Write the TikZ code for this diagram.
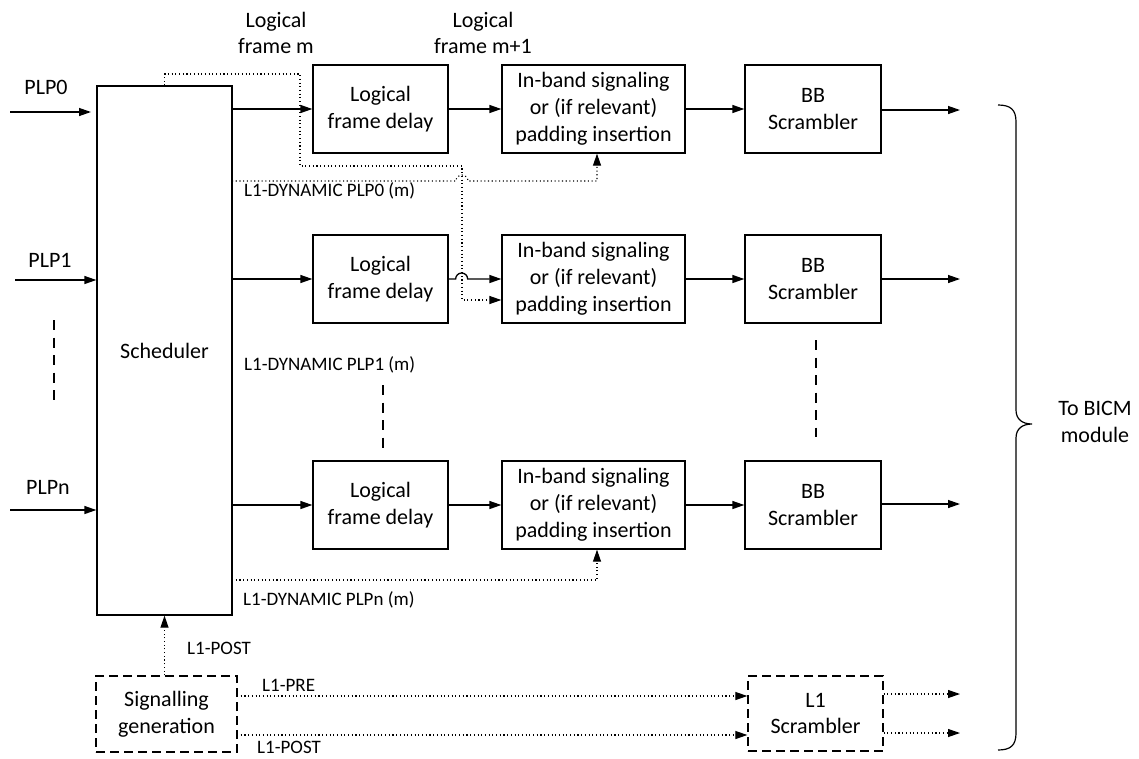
\documentclass[tikz,border=0pt]{standalone}
\usepackage{fontspec}
\setmainfont{Carlito}
\usetikzlibrary{arrows.meta}
\newcommand\boxfont{\fontsize{22}{26.8}\selectfont}
\newcommand\tagfont{\fontsize{19}{23}\selectfont}
\tikzset{
  line/.style={line width=1.3pt},
  arr/.style={line, -{Triangle[length=12pt,width=8pt]}},
  dotline/.style={line width=1.1pt, dash pattern=on 1.1pt off 2.6pt},
  dotarr/.style={dotline, -{Triangle[length=12pt,width=8pt]}},
  ellip/.style={line width=1.3pt, dash pattern=on 10pt off 7.5pt},
  blk/.style={draw, line width=1.3pt, align=center, font=\boxfont,
              minimum height=88pt, inner sep=0pt},
  delaybox/.style={blk, minimum width=135pt},
  insertbox/.style={blk, minimum width=183pt},
  scrbox/.style={blk, minimum width=136pt},
  sigbox/.style={draw, line width=1.3pt, dash pattern=on 9pt off 5pt,
                 align=center, font=\boxfont, inner sep=0pt},
  txt/.style={align=center, font=\boxfont, inner sep=0pt},
  tag/.style={font=\tagfont, inner sep=0pt, anchor=west},
}
\begin{document}
\begin{tikzpicture}[x=1pt, y=-1pt]
\useasboundingbox (0,0) rectangle (1139,758);

% scheduler
\node[draw, line width=1.3pt, minimum width=135pt, minimum height=529pt,
      inner sep=0pt] (sched) at (164.5,350.5) {};
\node[txt] (schedtxt) at (sched.center) {Scheduler};

% column headings
\node[txt] (hm)  at (276,33) {Logical\\frame m};
\node[txt] (hm1) at (483,33) {Logical\\frame m+1};

% PLP inputs
\node[txt] (plp0) at (46,87)  {PLP0};
\node[txt] (plp1) at (50,260) {PLP1};
\node[txt] (plpn) at (48,487) {PLPn};
\coordinate (in0) at (10,112);
\coordinate (in0e) at (91,112);
\coordinate (in1) at (15,280);
\coordinate (inn) at (10,510);
\draw[arr] (in0) -- (in0e);
\draw[arr] (in1) -- (sched.west |- in1);
\draw[arr] (inn) -- (sched.west |- inn);
\coordinate (ldA) at (54,320);
\coordinate (ldB) at (54,406);
\draw[ellip] (ldA) -- (ldB);

% processing rows
\node[delaybox]  (lfd1) at (380.5,109) {Logical\\frame delay};
\node[insertbox] (ib1)  at (593.5,109) {In-band signaling\\or (if relevant)\\padding insertion};
\node[scrbox]    (bb1)  at (813,109)   {BB\\Scrambler};

\node[delaybox]  (lfd2) at (380.5,279) {Logical\\frame delay};
\node[insertbox] (ib2)  at (593.5,279) {In-band signaling\\or (if relevant)\\padding insertion};
\node[scrbox]    (bb2)  at (813,279)   {BB\\Scrambler};

\node[delaybox]  (lfd3) at (380.5,505) {Logical\\frame delay};
\node[insertbox] (ib3)  at (593.5,505) {In-band signaling\\or (if relevant)\\padding insertion};
\node[scrbox]    (bb3)  at (813,505)   {BB\\Scrambler};

\coordinate (out1) at (960,110);
\coordinate (out2) at (960,279);
\coordinate (out3) at (960,504);

\draw[arr] (sched.east |- lfd1) -- (lfd1.west);
\draw[arr] (lfd1) -- (ib1);
\draw[arr] (ib1) -- (bb1);
\draw[arr] (bb1.east |- out1) -- (out1);

\draw[arr] (sched.east |- lfd2) -- (lfd2.west);
\draw[arr] (lfd2.east) -- ++(7,0) arc (180:360:6) -- (ib2.west);
\draw[arr] (ib2) -- (bb2);
\draw[arr] (bb2.east) -- (out2);

\draw[arr] (sched.east |- lfd3) -- (lfd3.west);
\draw[arr] (lfd3) -- (ib3);
\draw[arr] (ib3) -- (bb3);
\draw[arr] (bb3.east |- out3) -- (out3);

% row ellipses
\coordinate (mdA) at (383,385);
\coordinate (mdB) at (383,448);
\draw[ellip] (mdA) -- (mdB);
\coordinate (rdA) at (816,340);
\coordinate (rdB) at (816,437);
\draw[ellip] (rdA) -- (rdB);

% L1-dynamic signalling paths
\coordinate (pA1) at (164.5,74);
\coordinate (pA2) at (300,74);
\coordinate (pA3) at (300,166);
\coordinate (pA4) at (462,166);
\coordinate (pA5) at (462,300);
\draw[dotarr] (sched.north) -- (pA1) -- (pA2) -- (pA3) -- (pA4) -- (pA5) -- (ib2.west |- pA5);

\coordinate (pB1) at (232,181);
\coordinate (pB2) at (456,181);
\coordinate (pB3) at (597,181);
\draw[dotarr] (pB1) -- (pB2) arc (180:360:6) -- (pB3) -- ([xshift=3.5pt]ib1.south);

\coordinate (pC1) at (232,580);
\coordinate (pC2) at (597,580);
\draw[dotarr] (pC1) -- (pC2) -- ([xshift=3.5pt]ib3.south);

\node[tag] (dyn0) at (244,191) {L1-DYNAMIC PLP0 (m)};
\node[tag] (dyn1) at (244,365) {L1-DYNAMIC PLP1 (m)};
\node[tag] (dynn) at (243,600) {L1-DYNAMIC PLPn (m)};

% L1 signalling
\node[sigbox, minimum width=141pt, minimum height=76pt] (sig) at (166.5,714) {Signalling\\generation};
\node[sigbox, minimum width=135pt, minimum height=75pt] (l1s) at (815.5,713.5) {L1\\Scrambler};

\draw[dotarr] (sched.south |- sig.north) -- (sched.south);
\node[tag] (post1) at (187,648) {L1-POST};

\coordinate (pre) at (237,696);
\coordinate (post) at (237,735);
\draw[dotarr] (pre) -- (l1s.west |- pre);
\draw[dotarr] (post) -- (l1s.west |- post);
\node[tag] (pretag) at (262,685) {L1-PRE};
\node[tag] (post2) at (257,747) {L1-POST};

\coordinate (o1) at (960,694);
\coordinate (o2) at (960,733);
\draw[dotarr] (l1s.east |- o1) -- (o1);
\draw[dotarr] (l1s.east |- o2) -- (o2);

% output brace
\coordinate (brT) at (998,105);
\coordinate (brTip) at (1032,424);
\coordinate (brB) at (998,750);
\draw[line width=1.2pt] (brT) .. controls (1011,105) and (1016,110) .. (1016,122)
  -- (1016,410) .. controls (1016,419) and (1022,424) .. (brTip)
  .. controls (1022,424) and (1016,429) .. (1016,438)
  -- (1016,733) .. controls (1016,745) and (1011,750) .. (brB);
\node[txt] (bicm) at (1095,422) {To BICM\\module};
\end{tikzpicture}
\end{document}
